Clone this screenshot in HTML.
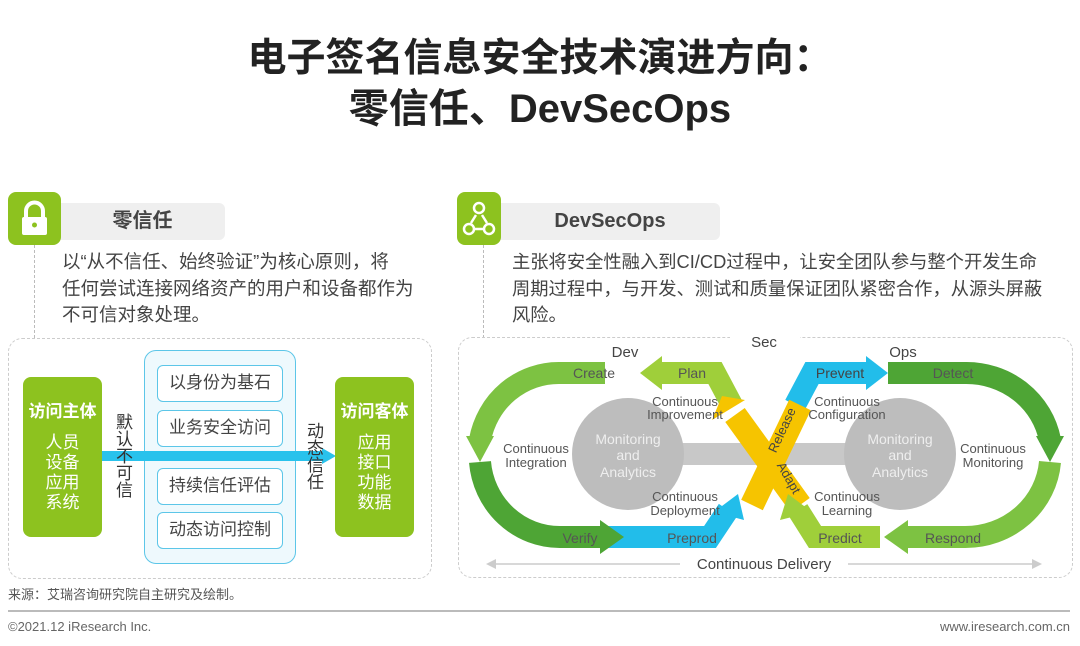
<!DOCTYPE html>
<html><head><meta charset="utf-8"><style>
body{margin:0;width:1080px;height:646px;background:#fff;position:relative;overflow:hidden;font-family:"Liberation Sans","Noto Sans CJK SC",sans-serif;color:#444}
.a{position:absolute}
.t{font-weight:bold;color:#222;width:1080px;text-align:center;left:0}
.p{font-size:18.5px;line-height:26.5px;color:#444;white-space:nowrap}
.g{background:#8dc21f;border-radius:8px;color:#fff;text-align:center}
.bar{background:#efefef;border-radius:0 6px 6px 0;font-weight:bold;font-size:20px;color:#444;text-align:center}
.ib{border:1.5px solid #5cc6e8;border-radius:6px;background:#fff;font-size:17px;text-align:center;line-height:34px;color:#444}
</style></head><body>
<div class="a t" style="top:27px;font-size:39px">电子签名信息安全技术演进方向：</div>
<div class="a t" style="top:76px;font-size:40px">零信任、DevSecOps</div>

<!-- left -->
<div class="a" style="left:34px;top:245px;height:93px;border-left:1px dashed #bbb"></div>
<div class="a bar" style="left:60px;top:203px;width:165px;height:37px;line-height:37px">零信任</div>
<div class="a g" style="left:8px;top:192px;width:53px;height:53px">
<svg width="53" height="53"><path d="M18 25v-6a8.5 8.5 0 0 1 17 0v6" fill="none" stroke="#fff" stroke-width="4"/><rect x="14" y="25" width="25" height="18" rx="2" fill="#fff"/><circle cx="26.5" cy="33" r="2.5" fill="#8dc21f"/></svg></div>
<div class="a p" style="left:62px;top:249px">以“从不信任、始终验证”为核心原则，将<br>任何尝试连接网络资产的用户和设备都作为<br>不可信对象处理。</div>
<div class="a" style="left:8px;top:338px;width:422px;height:239px;border:1px dashed #ccc;border-radius:14px"></div>
<div class="a g" style="left:23px;top:377px;width:79px;height:160px;font-size:17px;line-height:20px"><div style="font-weight:bold;margin-top:25px">访问主体</div><div style="margin-top:11px">人员<br>设备<br>应用<br>系统</div></div>
<div class="a" style="left:144px;top:350px;width:150px;height:212px;border:1.5px solid #5cc6e8;border-radius:12px;background:#eef9fd"></div>
<div class="a ib" style="left:157px;top:365px;width:124px;height:35px">以身份为基石</div>
<div class="a ib" style="left:157px;top:410px;width:124px;height:35px">业务安全访问</div>
<div class="a ib" style="left:157px;top:468px;width:124px;height:35px">持续信任评估</div>
<div class="a ib" style="left:157px;top:512px;width:124px;height:35px">动态访问控制</div>
<svg class="a" style="left:100px;top:446px" width="240" height="20"><rect x="2" y="5" width="222" height="10" fill="#29c2ec"/><polygon points="222,2 236,10 222,18" fill="#29c2ec"/></svg>
<div class="a" style="left:116px;top:414px;width:18px;font-size:17px;line-height:17px;color:#333">默认不可信</div>
<div class="a" style="left:307px;top:423px;width:18px;font-size:17px;line-height:17px;color:#333">动态信任</div>
<div class="a g" style="left:335px;top:377px;width:79px;height:160px;font-size:17px;line-height:20px"><div style="font-weight:bold;margin-top:25px">访问客体</div><div style="margin-top:11px">应用<br>接口<br>功能<br>数据</div></div>
<div class="a" style="left:8px;top:584px;font-size:13px;color:#555">来源：艾瑞咨询研究院自主研究及绘制。</div>

<!-- right -->
<div class="a" style="left:483px;top:245px;height:93px;border-left:1px dashed #bbb"></div>
<div class="a bar" style="left:500px;top:203px;width:220px;height:37px;line-height:37px">DevSecOps</div>
<div class="a g" style="left:457px;top:192px;width:44px;height:53px">
<svg width="44" height="53"><g fill="none" stroke="#fff" stroke-width="2.5"><circle cx="22" cy="16" r="5"/><circle cx="12" cy="37" r="5"/><circle cx="32" cy="37" r="5"/><path d="M19 23l-5 8M25 23l5 8M18 37h8"/></g></svg></div>
<div class="a p" style="left:512px;top:249px;font-size:18.3px">主张将安全性融入到CI/CD过程中，让安全团队参与整个开发生命<br>周期过程中，与开发、测试和质量保证团队紧密合作，从源头屏蔽<br>风险。</div>
<div class="a" style="left:458px;top:337px;width:613px;height:239px;border:1px dashed #ccc;border-radius:14px"></div>
<svg class="a" style="left:0;top:0" width="1080" height="646" font-family="Liberation Sans,sans-serif">
<rect x="730" y="330" width="70" height="16" fill="#fff"/>
<text x="764" y="347" font-size="15" text-anchor="middle" fill="#444">Sec</text>
<text x="625" y="357" font-size="15" text-anchor="middle" fill="#444">Dev</text>
<text x="903" y="357" font-size="15" text-anchor="middle" fill="#444">Ops</text>
<rect x="628" y="443" width="272" height="22" fill="#c8c8c8"/>
<circle cx="628" cy="454" r="56" fill="#bdbdbd"/>
<circle cx="900" cy="454" r="56" fill="#bdbdbd"/>
<g fill="none" stroke-width="22">
<path d="M605 373 H560 A80 82 0 0 0 480 440" stroke="#7dc242"/>
<path d="M480 462 A80 82 0 0 0 560 537 H600" stroke="#4ea535"/>
<path d="M888 373 H965 A85 82 0 0 1 1050 440" stroke="#4ea535"/>
<path d="M1050 462 A85 82 0 0 1 965 537 H900" stroke="#7dc242"/>
<path d="M732 405 L715 373 H660" stroke="#9fcf3a"/>
<path d="M600 537 H710 L728 510" stroke="#22bdea"/>
<path d="M795 405 L812 373 H868" stroke="#22bdea"/>
<path d="M880 537 H815 L798 510" stroke="#9fcf3a"/>
<path d="M752 505 L800 405" stroke="#f6c400" stroke-width="24"/>
<path d="M800 505 L735 415" stroke="#f6c400" stroke-width="24"/>
</g>
<polygon points="466,436 494,436 480,462" fill="#7dc242"/>
<polygon points="1036,436 1064,436 1050,462" fill="#4ea535"/>
<polygon points="600,520 600,554 624,537" fill="#4ea535"/>
<polygon points="908,520 908,554 884,537" fill="#7dc242"/>
<polygon points="662,356 662,390 640,373" fill="#9fcf3a"/>
<polygon points="866,356 866,390 888,373" fill="#22bdea"/>
<polygon points="714,512 744,520 738,494" fill="#22bdea"/>
<polygon points="780,520 812,512 788,494" fill="#9fcf3a"/>
<polygon points="712,420 745,400 722,396" fill="#f6c400"/>
<g font-size="13" fill="#555" text-anchor="middle">
<text x="594" y="378" font-size="14">Create</text>
<text x="692" y="378" font-size="14">Plan</text>
<text x="840" y="378" font-size="14" fill="#444">Prevent</text>
<text x="953" y="378" font-size="14">Detect</text>
<text x="580" y="543" font-size="14">Verify</text>
<text x="692" y="543" font-size="14">Preprod</text>
<text x="840" y="543" font-size="14">Predict</text>
<text x="953" y="543" font-size="14">Respond</text>
<text x="685" y="406">Continuous</text><text x="685" y="419">Improvement</text>
<text x="847" y="406">Continuous</text><text x="847" y="419">Configuration</text>
<text x="536" y="453">Continuous</text><text x="536" y="467">Integration</text>
<text x="993" y="453">Continuous</text><text x="993" y="467">Monitoring</text>
<text x="685" y="501">Continuous</text><text x="685" y="515">Deployment</text>
<text x="847" y="501">Continuous</text><text x="847" y="515">Learning</text>
<g fill="#eee" font-size="14"><text x="628" y="444">Monitoring</text><text x="628" y="460">and</text><text x="628" y="477">Analytics</text>
<text x="900" y="444">Monitoring</text><text x="900" y="460">and</text><text x="900" y="477">Analytics</text></g>
<text x="0" y="0" fill="#444" font-size="13" transform="translate(786,432) rotate(-65)">Release</text>
<text x="0" y="0" fill="#444" font-size="13" transform="translate(785,480) rotate(60)">Adapt</text>
<text x="764" y="569" font-size="15" fill="#444">Continuous Delivery</text>
</g>
<g stroke="#ccc" stroke-width="1.5"><line x1="492" y1="564" x2="680" y2="564"/><line x1="848" y1="564" x2="1036" y2="564"/></g>
<polygon points="486,564 496,559 496,569" fill="#ccc"/><polygon points="1042,564 1032,559 1032,569" fill="#ccc"/>
</svg>

<div class="a" style="left:8px;top:610px;width:1062px;border-top:2px solid #bbb"></div>
<div class="a" style="left:8px;top:619px;font-size:13px;color:#666">©2021.12 iResearch Inc.</div>
<div class="a" style="right:10px;top:619px;font-size:13px;color:#666">www.iresearch.com.cn</div>
</body></html>
